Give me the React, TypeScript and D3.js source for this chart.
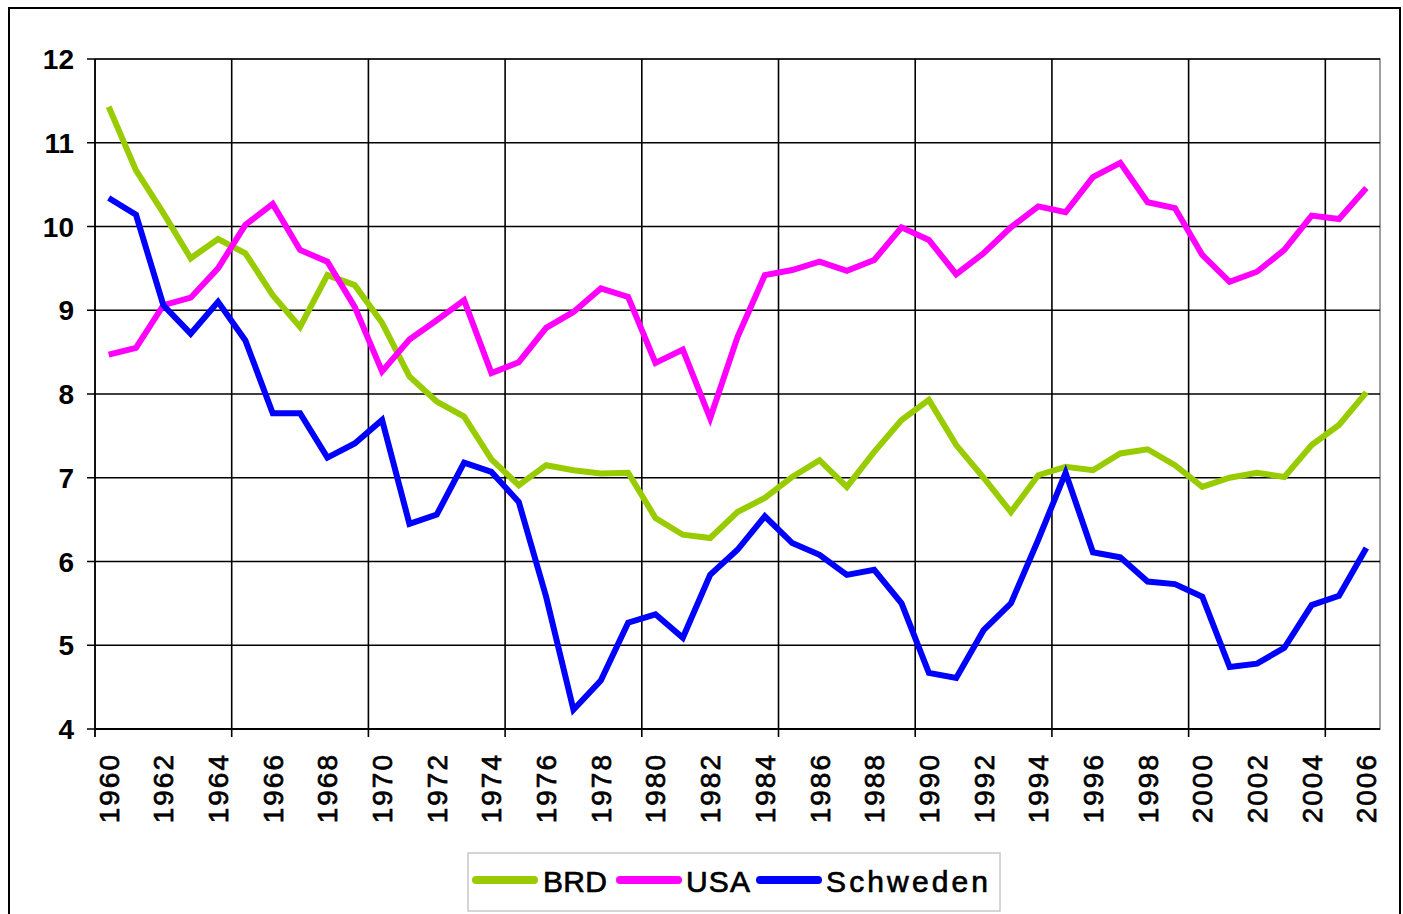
import React from "react";
import * as d3 from "d3";

const years = [
  1960, 1961, 1962, 1963, 1964, 1965, 1966, 1967, 1968, 1969,
  1970, 1971, 1972, 1973, 1974, 1975, 1976, 1977, 1978, 1979,
  1980, 1981, 1982, 1983, 1984, 1985, 1986, 1987, 1988, 1989,
  1990, 1991, 1992, 1993, 1994, 1995, 1996, 1997, 1998, 1999,
  2000, 2001, 2002, 2003, 2004, 2005, 2006,
];

const brd = [
  11.43, 10.67, 10.16, 9.62, 9.85, 9.68, 9.18, 8.8, 9.42, 9.3,
  8.85, 8.21, 7.91, 7.73, 7.22, 6.91, 7.15, 7.09, 7.05, 7.06,
  6.52, 6.32, 6.28, 6.59, 6.76, 7.01, 7.21, 6.89, 7.31, 7.69,
  7.93, 7.39, 7.0, 6.59, 7.03, 7.13, 7.09, 7.29, 7.34, 7.15,
  6.89, 7.0, 7.06, 7.01, 7.39, 7.63, 8.02,
];

const usa = [
  8.47, 8.55, 9.06, 9.15, 9.5, 10.02, 10.27, 9.72, 9.58, 9.04,
  8.27, 8.65, 8.88, 9.12, 8.25, 8.38, 8.79, 8.98, 9.26, 9.16,
  8.37, 8.53, 7.71, 8.68, 9.42, 9.48, 9.58, 9.47, 9.6, 9.99,
  9.84, 9.43, 9.68, 9.99, 10.24, 10.17, 10.59, 10.76, 10.29, 10.22,
  9.66, 9.34, 9.46, 9.72, 10.13, 10.09, 10.46,
];

const schweden = [
  10.34, 10.14, 9.06, 8.72, 9.1, 8.64, 7.77, 7.77, 7.24, 7.41,
  7.69, 6.45, 6.56, 7.18, 7.07, 6.71, 5.58, 4.23, 4.58, 5.27,
  5.37, 5.09, 5.84, 6.14, 6.54, 6.22, 6.08, 5.84, 5.9, 5.5,
  4.67, 4.61, 5.18, 5.5, 6.26, 7.06, 6.11, 6.05, 5.76, 5.73,
  5.58, 4.74, 4.78, 4.97, 5.48, 5.59, 6.16,
];

const series = [
  { name: "BRD", values: brd, color: "#99CC00" },
  { name: "USA", values: usa, color: "#FF00FF" },
  { name: "Schweden", values: schweden, color: "#0000FF" },
];

const yTicks = [4, 5, 6, 7, 8, 9, 10, 11, 12];
const gridYears = [1965, 1970, 1975, 1980, 1985, 1990, 1995, 2000, 2005];

const FONT = "Arial, 'Liberation Sans', sans-serif";

const App = () => {
  const left = 95;
  const right = 1380;
  const top = 59;
  const bottom = 729;

  const x = d3.scaleBand<number>().domain(years).range([left, right]).padding(0);
  const y = d3.scaleLinear().domain([4, 12]).range([bottom, top]);
  const bw = x.bandwidth();
  const cx = (yr: number) => (x(yr) as number) + bw / 2;

  const line = d3
    .line<number>()
    .x((_, i) => cx(years[i]))
    .y((d) => y(d));

  const labelYears = years.filter((yr) => (yr - 1960) % 2 === 0);

  // legend layout (sample start, text start, text width)
  const legendItems = [
    { lx: 476, tx: 543, tw: 64 },
    { lx: 620, tx: 686, tw: 64 },
    { lx: 760, tx: 826, tw: 162 },
  ];

  return (
    <svg
      width={1403}
      height={914}
      style={{ position: "absolute", left: 0, top: 0, background: "#fff" }}
    >
      <rect x={0} y={0} width={1403} height={914} fill="#fff" />
      {/* chart frame */}
      <rect x={9} y={8} width={1391} height={930} fill="none" stroke="#000" strokeWidth={2} />

      {/* plot area border */}
      <rect x={left} y={top} width={right - left} height={bottom - top} fill="#fff" stroke="#808080" strokeWidth={1.5} />

      {/* horizontal grid */}
      {yTicks.map((t) => (
        <line key={"h" + t} x1={left - 8} x2={right} y1={y(t)} y2={y(t)} stroke="#000" strokeWidth={1.6} />
      ))}
      {/* vertical grid */}
      {gridYears.map((yr) => (
        <line
          key={"v" + yr}
          x1={x(yr)}
          x2={x(yr)}
          y1={top}
          y2={bottom + 8}
          stroke="#000"
          strokeWidth={1.6}
        />
      ))}
      {/* axes */}
      <line x1={left} x2={left} y1={top} y2={bottom + 8} stroke="#000" strokeWidth={1.8} />
      <line x1={left} x2={right} y1={bottom} y2={bottom} stroke="#000" strokeWidth={1.8} />

      {/* y labels */}
      {yTicks.map((t) => (
        <text
          key={"yl" + t}
          x={74}
          y={y(t)}
          dy="0.36em"
          textAnchor="end"
          fontFamily={FONT}
          fontWeight="bold"
          fontSize={28}
          fill="#000"
        >
          {t}
        </text>
      ))}

      {/* x labels */}
      {labelYears.map((yr) => (
        <text
          key={"xl" + yr}
          transform={`translate(${cx(yr) + 10},${bottom + 24}) rotate(-90)`}
          textAnchor="end"
          fontFamily={FONT}
          fontSize={28}
          letterSpacing={2}
          fill="#000"
          stroke="#000"
          strokeWidth={0.7}
        >
          {yr}
        </text>
      ))}

      {/* series */}
      {series.map((s) => (
        <path
          key={s.name}
          d={line(s.values) || ""}
          fill="none"
          stroke={s.color}
          strokeWidth={6}
          strokeLinejoin="miter"
        />
      ))}

      {/* legend */}
      <rect x={468} y={853} width={532} height={58} fill="#fff" stroke="#c8c8c8" strokeWidth={1.5} />
      {series.map((s, i) => (
        <g key={"lg" + s.name}>
          <line
            x1={legendItems[i].lx}
            x2={legendItems[i].lx + 58}
            y1={880}
            y2={880}
            stroke={s.color}
            strokeWidth={8}
            strokeLinecap="round"
          />
          <text
            x={legendItems[i].tx}
            y={881}
            dy="0.36em"
            fontFamily={FONT}
            fontSize={30}
            textLength={legendItems[i].tw}
            lengthAdjust="spacing"
            fill="#000"
            stroke="#000"
            strokeWidth={0.7}
          >
            {s.name}
          </text>
        </g>
      ))}
    </svg>
  );
};

export default App;
